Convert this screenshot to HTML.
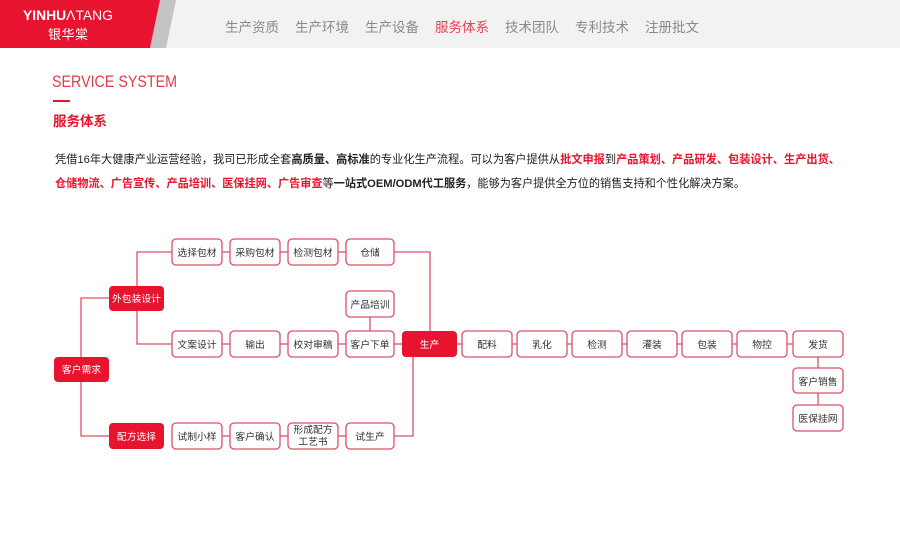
<!DOCTYPE html>
<html><head><meta charset="utf-8">
<style>
html,body{margin:0;padding:0;background:#fff;}
svg{display:block;}
text{font-family:"Liberation Sans","Noto Sans CJK SC",sans-serif;}
</style></head>
<body>
<svg width="900" height="552" viewBox="0 0 900 552" xmlns="http://www.w3.org/2000/svg">
<rect x="0" y="0" width="900" height="48" fill="#f2f2f2"/>
<polygon points="160,0 176,0 166,48 150,48" fill="#c4c4c4"/>
<polygon points="0,0 160,0 150,48 0,48" fill="#e8132f"/>
<text x="23" y="20" font-size="13.5" fill="#fff" textLength="90" lengthAdjust="spacingAndGlyphs"><tspan font-weight="bold">YINHU</tspan><tspan font-weight="normal">ΛTANG</tspan></text>
<text x="48" y="39" font-size="13" fill="#fff" letter-spacing="0.5">银华棠</text>
<g font-size="13.5" fill="#8a8a8a">
<text x="225" y="32">生产资质</text>
<text x="295" y="32">生产环境</text>
<text x="365" y="32">生产设备</text>
<text x="435" y="32" fill="#e8405a">服务体系</text>
<text x="505" y="32">技术团队</text>
<text x="575" y="32">专利技术</text>
<text x="645" y="32">注册批文</text>
</g>
<text x="52" y="87" font-size="16.5" fill="#e23a4e" textLength="125" lengthAdjust="spacingAndGlyphs">SERVICE SYSTEM</text>
<rect x="53" y="100" width="17" height="2" fill="#e8132f"/>
<text x="53" y="126" font-size="13.5" font-weight="bold" fill="#e8132f">服务体系</text>
<g font-size="11.4" fill="#222">
<text x="55" y="163" textLength="785" lengthAdjust="spacingAndGlyphs">凭借16年大健康产业运营经验，我司已形成全套<tspan font-weight="bold">高质量、高标准</tspan>的专业化生产流程。可以为客户提供从<tspan font-weight="bold" fill="#e8132f">批文申报</tspan>到<tspan font-weight="bold" fill="#e8132f">产品策划、产品研发、包装设计、生产出货、</tspan></text>
<text x="55" y="187" textLength="690" lengthAdjust="spacingAndGlyphs"><tspan font-weight="bold" fill="#e8132f">仓储物流、广告宣传、产品培训、医保挂网、广告审查</tspan>等<tspan font-weight="bold">一站式OEM/ODM代工服务</tspan>，能够为客户提供全方位的销售支持和个性化解决方案。</text>
</g>
<g stroke="#d9506a" stroke-width="1.3" fill="none">
<polyline points="109,298 81,298 81,436 109,436"/>
<polyline points="172,252 137,252 137,344 172,344"/>
<line x1="222" y1="252" x2="230" y2="252"/><line x1="280" y1="252" x2="288" y2="252"/><line x1="338" y1="252" x2="346" y2="252"/>
<polyline points="394,252 430,252 430,331"/>
<line x1="222" y1="344" x2="230" y2="344"/><line x1="280" y1="344" x2="288" y2="344"/><line x1="338" y1="344" x2="346" y2="344"/><line x1="394" y1="344" x2="402" y2="344"/>
<line x1="370" y1="317" x2="370" y2="331"/>
<line x1="222" y1="436" x2="230" y2="436"/><line x1="280" y1="436" x2="288" y2="436"/><line x1="338" y1="436" x2="346" y2="436"/>
<polyline points="394,436 413,436 413,357"/>
<line x1="457" y1="344" x2="843" y2="344"/>
<line x1="818" y1="357" x2="818" y2="405"/>
</g>
<g fill="#fff" stroke="#d9506a" stroke-width="1.3">
<rect x="172" y="239" width="50" height="26" rx="4"/>
<rect x="230" y="239" width="50" height="26" rx="4"/>
<rect x="288" y="239" width="50" height="26" rx="4"/>
<rect x="346" y="239" width="48" height="26" rx="4"/>
<rect x="346" y="291" width="48" height="26" rx="4"/>
<rect x="172" y="331" width="50" height="26" rx="4"/>
<rect x="230" y="331" width="50" height="26" rx="4"/>
<rect x="288" y="331" width="50" height="26" rx="4"/>
<rect x="346" y="331" width="48" height="26" rx="4"/>
<rect x="172" y="423" width="50" height="26" rx="4"/>
<rect x="230" y="423" width="50" height="26" rx="4"/>
<rect x="288" y="423" width="50" height="26" rx="4"/>
<rect x="346" y="423" width="48" height="26" rx="4"/>
<rect x="462" y="331" width="50" height="26" rx="4"/>
<rect x="517" y="331" width="50" height="26" rx="4"/>
<rect x="572" y="331" width="50" height="26" rx="4"/>
<rect x="627" y="331" width="50" height="26" rx="4"/>
<rect x="682" y="331" width="50" height="26" rx="4"/>
<rect x="737" y="331" width="50" height="26" rx="4"/>
<rect x="793" y="331" width="50" height="26" rx="4"/>
<rect x="793" y="368" width="50" height="25" rx="4"/>
<rect x="793" y="405" width="50" height="26" rx="4"/>
</g>
<g fill="#e8132f">
<rect x="109" y="286" width="55" height="25" rx="4"/>
<rect x="54" y="357" width="55" height="25" rx="4"/>
<rect x="109" y="423" width="55" height="26" rx="4"/>
<rect x="402" y="331" width="55" height="26" rx="4"/>
</g>
<g font-size="9.8" fill="#333" text-anchor="middle">
<text x="197" y="256">选择包材</text><text x="255" y="256">采购包材</text><text x="313" y="256">检测包材</text><text x="370" y="256">仓储</text>
<text x="370" y="308">产品培训</text>
<text x="197" y="348">文案设计</text><text x="255" y="348">输出</text><text x="313" y="348">校对审稿</text><text x="370" y="348">客户下单</text>
<text x="197" y="440">试制小样</text><text x="255" y="440">客户确认</text><text x="313" y="433">形成配方</text><text x="313" y="445">工艺书</text><text x="370" y="440">试生产</text>
<text x="487" y="348">配料</text><text x="542" y="348">乳化</text><text x="597" y="348">检测</text><text x="652" y="348">灌装</text><text x="707" y="348">包装</text><text x="762" y="348">物控</text><text x="818" y="348">发货</text>
<text x="818" y="385">客户销售</text><text x="818" y="422">医保挂网</text>
</g>
<g font-size="9.8" fill="#fff" text-anchor="middle">
<text x="136.5" y="302">外包装设计</text>
<text x="81.5" y="373">客户需求</text>
<text x="136.5" y="440">配方选择</text>
<text x="429.5" y="348">生产</text>
</g>
</svg>
</body></html>
